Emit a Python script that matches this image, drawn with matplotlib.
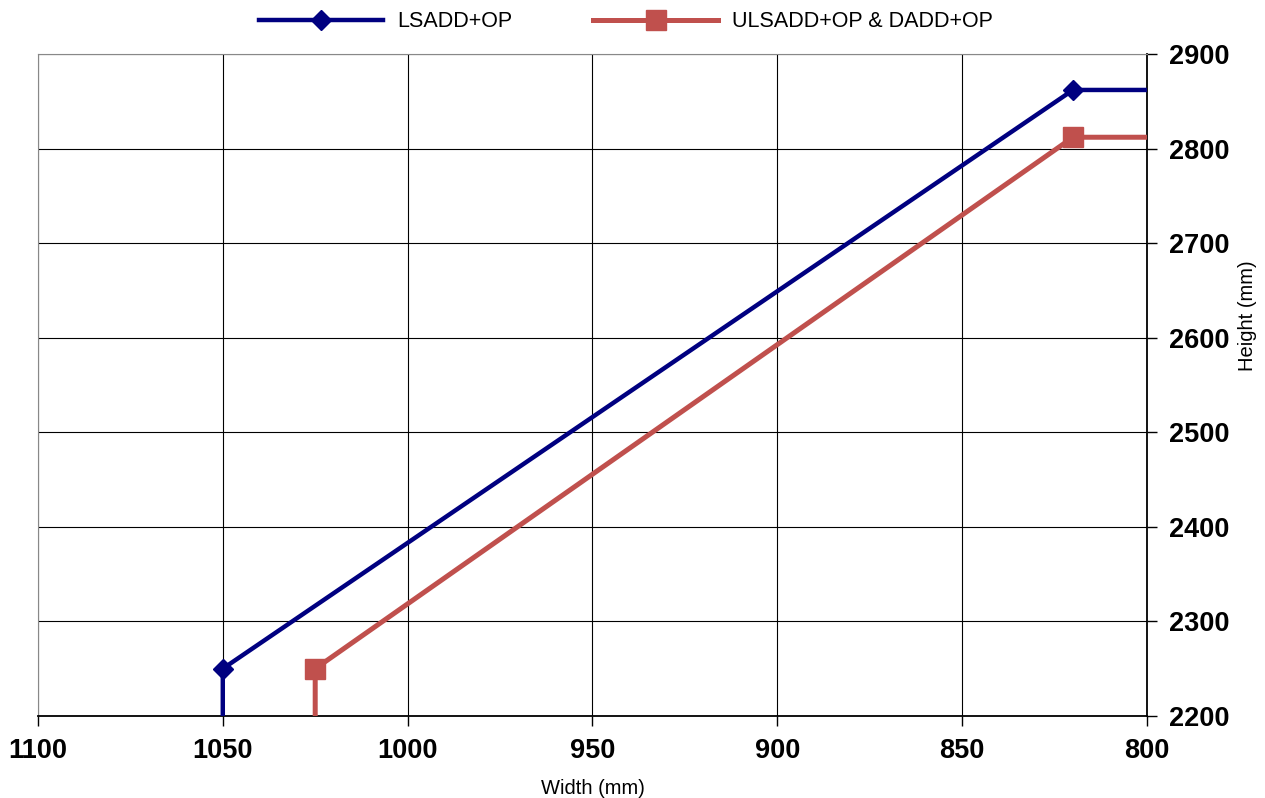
import matplotlib
matplotlib.use("Agg")
from matplotlib import pyplot as plt

# Daten
breite_blau = [1050, 1050, 820, 800]
hoehe_blau = [2200, 2250, 2862, 2862]
breite_rot = [1025, 1025, 820, 800]
hoehe_rot = [2200, 2250, 2812, 2812]
x_ticks = [1100, 1050, 1000, 950, 900, 850, 800]
y_ticks = [2200, 2300, 2400, 2500, 2600, 2700, 2800, 2900]

plt.rcParams['font.family'] = ['Liberation Sans', 'DejaVu Sans']

fig = plt.figure(figsize=(12.65, 7.98), dpi=100)
ax = fig.add_axes([0.030, 0.1028, 0.8767, 0.8295])

ax.plot(breite_blau, hoehe_blau, '-', color='#000080', linewidth=3.2,
        marker='D', markersize=10, markevery=[1, 2], label='LSADD+OP', zorder=5)
ax.plot(breite_rot, hoehe_rot, '-', color='#C0504D', linewidth=3.6,
        marker='s', markersize=14, markevery=[1, 2], label='ULSADD+OP & DADD+OP', zorder=4)

ax.set_xlim(1100, 800)
ax.set_ylim(2200, 2900)
ax.set_xticks(x_ticks)
ax.set_yticks(y_ticks)
ax.yaxis.tick_right()
ax.yaxis.set_label_position('right')
ax.tick_params(axis='both', direction='out', length=7, width=1, labelsize=19.5, pad=9)
for lbl in ax.get_xticklabels() + ax.get_yticklabels():
    lbl.set_fontweight('bold')

ax.grid(True, color='black', linewidth=0.8)
ax.spines['top'].set_color('#888888')
ax.spines['left'].set_color('#888888')
ax.spines['bottom'].set_linewidth(1.3)
ax.spines['right'].set_linewidth(1.3)

ax.set_xlabel('Width (mm)', fontsize=14.5)
ax.xaxis.set_label_coords(0.5, -0.095)
ax.set_ylabel('Height (mm)', fontsize=14.5)
ax.yaxis.set_label_coords(1.082, 0.604)

ax.legend(loc='lower center', bbox_to_anchor=(0.53, 1.02), ncol=2, frameon=False,
          fontsize=15.5, handlelength=5.8, handletextpad=0.65, columnspacing=3.75,
          borderaxespad=0.0)

fig.savefig('out.png', dpi=100)
